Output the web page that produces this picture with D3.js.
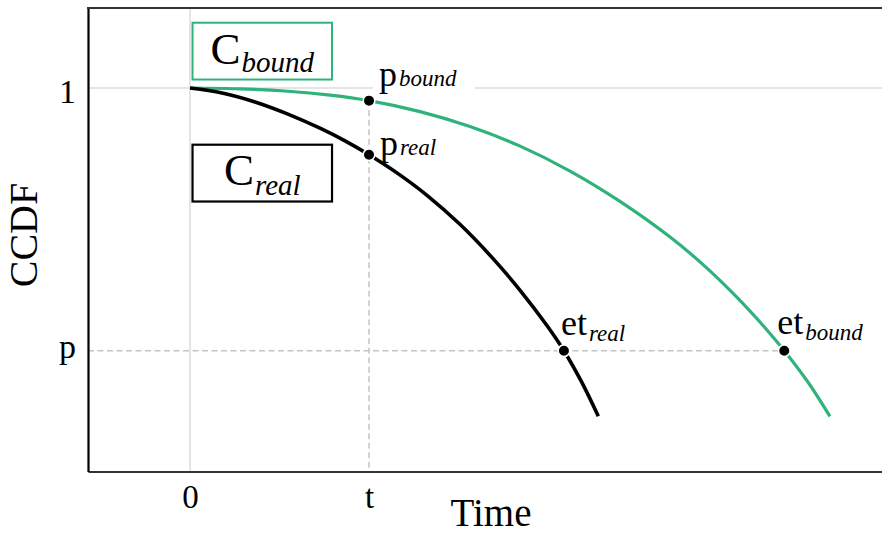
<!DOCTYPE html>
<html>
<head>
<meta charset="utf-8">
<script src="https://cdn.jsdelivr.net/npm/d3@7"></script>
<style>
  html, body { margin: 0; padding: 0; background: #fff; }
  svg { display: block; }
  text { font-family: "Liberation Serif", "Times New Roman", serif; fill: #000; }
</style>
</head>
<body>
<svg id="chart" width="882" height="535"></svg>
<script>
// Tick positions and their symbolic labels
const xTickValues = [0, 1];
const xTickLabels = ["0", "t"];
const yTickValues = [0.5, 1];
const yTickLabels = ["p", "1"];

// Real CCDF curve (time, probability)
const timeReal = [0, 0.179, 0.363, 0.547, 0.732, 0.866, 1.0, 1.162, 1.324, 1.508, 1.693, 1.844, 1.994, 2.089, 2.184, 2.281];
const ccdfReal = [1.0, 0.9905, 0.9734, 0.9503, 0.9225, 0.8993, 0.873, 0.8371, 0.7958, 0.7406, 0.6753, 0.615, 0.548, 0.5, 0.4429, 0.3753];

// Bound CCDF curve (time, probability)
const timeBound = [0, 0.279, 0.547, 0.782, 1.0, 1.285, 1.564, 1.844, 2.123, 2.402, 2.682, 2.877, 3.056, 3.184, 3.32, 3.453, 3.575];
const ccdfBound = [1.0, 0.9985, 0.9939, 0.9865, 0.976, 0.9551, 0.9267, 0.8894, 0.842, 0.7843, 0.7164, 0.6606, 0.6016, 0.5546, 0.5, 0.4399, 0.3751];

// Marked points
const pointTime = [1, 1, 2.089, 3.32];
const pointCcdf = [0.976, 0.873, 0.5, 0.5];
const pointBase = ["p", "p", "et", "et"];
const pointSub = ["bound", "real", "real", "bound"];

// Curve name boxes
const curveBase = ["C", "C"];
const curveSub = ["bound", "real"];

const GREEN = "#30b37a";
const svg = d3.select("#chart");
const plot = { left: 88, right: 882, top: 8, bottom: 471.5 };

const x = d3.scaleLinear().domain([-0.57, 3.866]).range([plot.left, plot.right]);
const y = d3.scaleLinear().domain([0.2701, 1.1523]).range([plot.bottom, plot.top]);

// Grid: zero line in time and the probability-one line
svg.append("line")
  .attr("x1", x(0)).attr("x2", x(0))
  .attr("y1", plot.top).attr("y2", plot.bottom)
  .attr("stroke", "#dcdcdc").attr("stroke-width", 1.5);
svg.append("line")
  .attr("x1", plot.left).attr("x2", plot.right)
  .attr("y1", y(1)).attr("y2", y(1))
  .attr("stroke", "#dcdcdc").attr("stroke-width", 1.5);

const bgLayer = svg.append("g");

// Dashed guides at t and p
svg.append("line")
  .attr("x1", x(pointTime[0])).attr("x2", x(pointTime[0]))
  .attr("y1", y(pointCcdf[0])).attr("y2", plot.bottom)
  .attr("stroke", "#c4c4c4").attr("stroke-width", 1.5)
  .attr("stroke-dasharray", "6,3.5");
svg.append("line")
  .attr("x1", plot.left).attr("x2", x(pointTime[3]))
  .attr("y1", y(pointCcdf[3])).attr("y2", y(pointCcdf[3]))
  .attr("stroke", "#c4c4c4").attr("stroke-width", 1.5)
  .attr("stroke-dasharray", "6,3.5");

// Axes
const xAxis = svg.append("g")
  .attr("transform", `translate(0,${plot.bottom})`)
  .call(d3.axisBottom(x).tickValues(xTickValues)
    .tickFormat((d, i) => xTickLabels[i]).tickSize(0).tickSizeOuter(0));
xAxis.select(".domain").attr("stroke", "#333").attr("stroke-width", 2.2);
xAxis.selectAll("text")
  .attr("y", 36.5).attr("dy", null)
  .style("font-size", "33px").style("font-family", "'Liberation Serif', serif");

const yLabelShift = { "1": 14, "p": 6.5 };
const yAxis = svg.append("g")
  .attr("transform", `translate(${plot.left},0)`)
  .call(d3.axisLeft(y).tickValues(yTickValues)
    .tickFormat((d, i) => yTickLabels[i]).tickSize(0).tickSizeOuter(0));
yAxis.select(".domain").attr("stroke", "#000").attr("stroke-width", 2.2);
yAxis.selectAll("text")
  .attr("x", -12).attr("dy", null)
  .attr("y", function () { return yLabelShift[d3.select(this).text()]; })
  .style("font-size", "34px").style("font-family", "'Liberation Serif', serif");
svg.selectAll(".tick line").remove();

// Top frame line
svg.append("line")
  .attr("x1", plot.left - 1).attr("x2", plot.right)
  .attr("y1", plot.top).attr("y2", plot.top)
  .attr("stroke", "#333").attr("stroke-width", 2.2);

// Axis titles
svg.append("text")
  .attr("x", 491).attr("y", 526)
  .attr("text-anchor", "middle")
  .style("font-size", "39px").text("Time");
svg.append("text")
  .attr("transform", "translate(37,235) rotate(-90)")
  .attr("text-anchor", "middle")
  .style("font-size", "40px").text("CCDF");

// Curves
const line = d3.line().curve(d3.curveCatmullRom.alpha(0.5))
  .x(d => x(d[0])).y(d => y(d[1]));
svg.append("path")
  .datum(timeBound.map((t, i) => [t, ccdfBound[i]]))
  .attr("d", line).attr("fill", "none")
  .attr("stroke", GREEN).attr("stroke-width", 3.2);
svg.append("path")
  .datum(timeReal.map((t, i) => [t, ccdfReal[i]]))
  .attr("d", line).attr("fill", "none")
  .attr("stroke", "#000").attr("stroke-width", 3.6);

// Marked points
svg.append("g").selectAll("circle")
  .data(pointTime)
  .join("circle")
  .attr("cx", d => x(d))
  .attr("cy", (d, i) => y(pointCcdf[i]))
  .attr("r", 5.8)
  .attr("fill", "#000")
  .attr("stroke", "#fff").attr("stroke-width", 1.6);

// Point labels: offsets from each point and subscript drop
const pointLabelLayout = [
  { dx: 10, dy: -14.5, sub: 0 },
  { dx: 11, dy: 0, sub: 0 },
  { dx: -3, dy: -16, sub: 6.5 },
  { dx: -7, dy: -17, sub: 6.5 }
];
pointTime.forEach((t, i) => {
  const L = pointLabelLayout[i];
  const txt = svg.append("text")
    .attr("x", x(t) + L.dx)
    .attr("y", y(pointCcdf[i]) + L.dy);
  txt.append("tspan").style("font-size", "36px").text(pointBase[i]);
  txt.append("tspan").attr("dy", L.sub).attr("dx", 2)
    .style("font-size", "23px").style("font-style", "italic")
    .text(pointSub[i]);
  const b = txt.node().getBBox();
  bgLayer.append("rect")
    .attr("x", b.x - 6).attr("y", b.y)
    .attr("width", b.width + 24).attr("height", b.height - 2)
    .attr("fill", "#fff");
});

// Curve name boxes
const boxLayout = [
  { top: y(1) - 65.3, stroke: GREEN, width: 2, base: 41, sub: 8 },
  { top: y(1) + 56.7, stroke: "#000", width: 2.2, base: 40, sub: 10 }
];
curveBase.forEach((c, i) => {
  const L = boxLayout[i];
  const left = x(0) + 2.5, w = 139.5, h = 56.8;
  svg.append("rect")
    .attr("x", left).attr("y", L.top)
    .attr("width", w).attr("height", h)
    .attr("fill", "#fff")
    .attr("stroke", L.stroke).attr("stroke-width", L.width);
  const txt = svg.append("text")
    .attr("x", left + w / 2).attr("y", L.top + L.base)
    .attr("text-anchor", "middle");
  txt.append("tspan").style("font-size", "45px").text(c);
  txt.append("tspan").attr("dy", L.sub).attr("dx", 1)
    .style("font-size", "29px").style("font-style", "italic")
    .text(curveSub[i]);
});
</script>
</body>
</html>
